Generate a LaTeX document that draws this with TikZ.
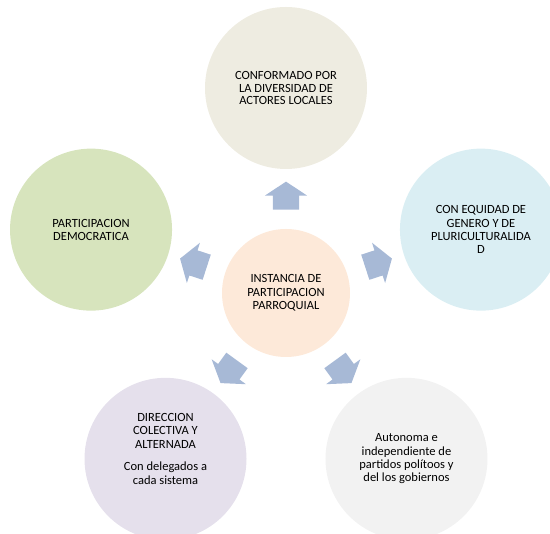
\documentclass[tikz,border=0pt]{standalone}
\usepackage{fontspec}
\setmainfont{Carlito}
\usetikzlibrary{calc,shapes.arrows}

\definecolor{topfill}{RGB}{238,236,225}
\definecolor{rightfill}{RGB}{218,238,243}
\definecolor{leftfill}{RGB}{215,228,189}
\definecolor{blfill}{RGB}{229,224,236}
\definecolor{brfill}{RGB}{242,242,242}
\definecolor{hubfill}{RGB}{253,233,217}
\definecolor{arrowfill}{RGB}{167,185,214}

\begin{document}
\begin{tikzpicture}[x=1pt, y=1pt,
                bubble/.style={circle, draw=none, minimum size=162pt, inner sep=0pt, align=center,
                    font=\fontsize{12.5}{13.3}\selectfont},
                hub/.style={bubble, fill=hubfill, minimum size=128pt},
                blockarrow/.style={single arrow, draw=none, fill=arrowfill, minimum height=28pt,
                    inner xsep=0pt, inner ysep=13pt, single arrow head extend=8pt, single arrow tip angle=113}
            ]

            \useasboundingbox (0,0) rectangle (550,534);

            \node[hub] (centre) at (286,241) {INSTANCIA DE\\PARTICIPACION\\PARROQUIAL};

            \node[bubble, fill=topfill, font=\fontsize{12.5}{12.5}\selectfont] (actores) at ($(centre)+(90:205)$) {CONFORMADO POR\\LA DIVERSIDAD DE\\ACTORES LOCALES};
            \node[bubble, fill=rightfill] (equidad) at ($(centre)+(18:205)$) {CON EQUIDAD DE\\GENERO Y DE\\PLURICULTURALIDA\\D};
            \node[bubble, fill=brfill] (autonomia) at ($(centre)+(306:205)$) {Autonoma e\\independiente de\\partidos pol\'itoos y\\del los gobiernos};
            \node[bubble, fill=blfill] (direccion) at ($(centre)+(234:205)$) {};
            \node[bubble, fill=leftfill] (democracia) at ($(centre)+(162:205)$) {PARTICIPACION\\DEMOCRATICA};

            \node[align=center, font=\fontsize{12.5}{13.5}\selectfont] (direcciontxt) at ([yshift=10pt]direccion.center)
                {DIRECCION\\COLECTIVA Y\\ALTERNADA\\[9pt]Con delegados a\\cada sistema};

            % arrows out of the centre
            \foreach \ang/\nm in {90/arrA, 18/arrB, 306/arrC, 234/arrD, 162/arrE}
                \node[blockarrow, rotate=\ang] (\nm) at ($(centre)+(\ang:93)$) {};

        \end{tikzpicture}
\end{document}
